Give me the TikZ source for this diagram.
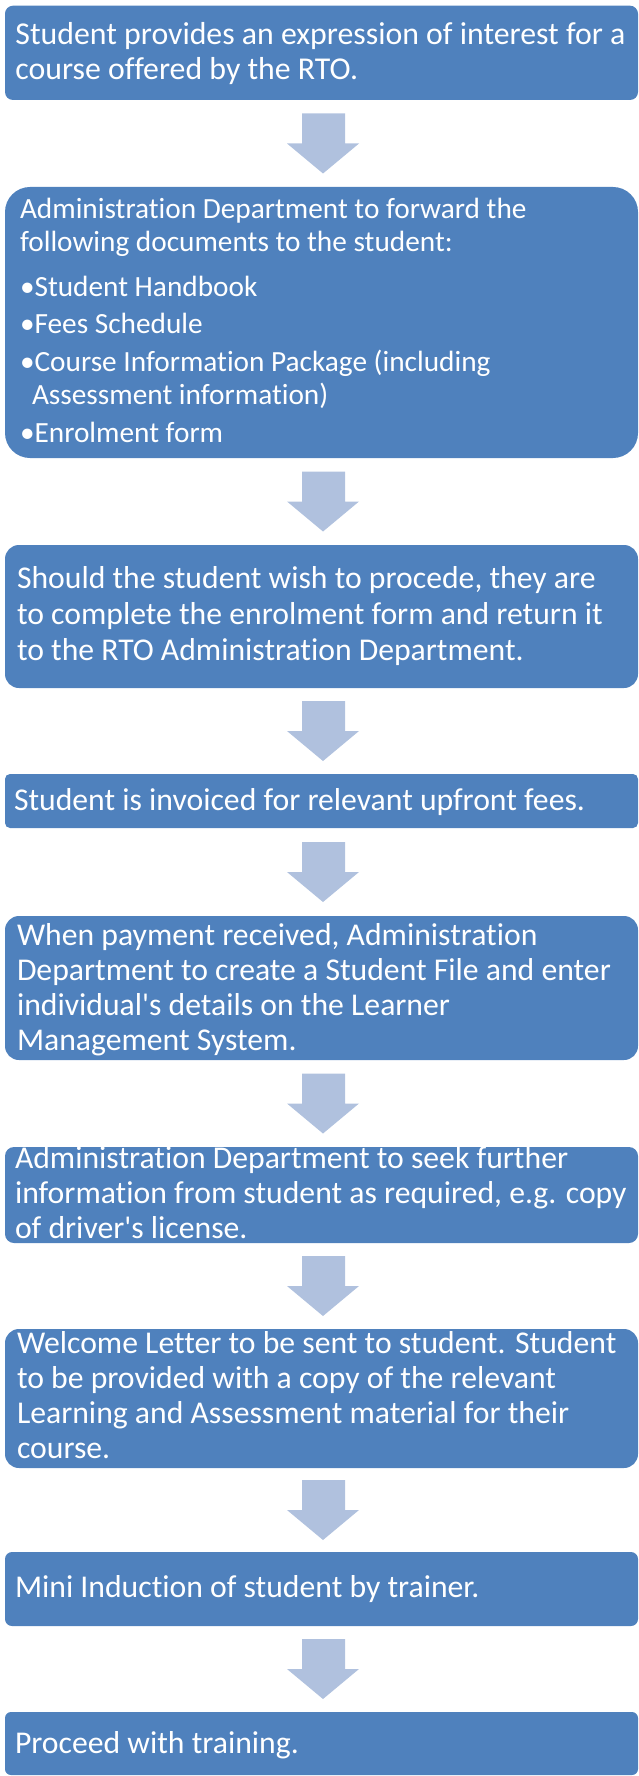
\documentclass[tikz,border=0pt]{standalone}
\usepackage{fontspec}
\setmainfont{Carlito}[RawFeature={-liga;-clig;-calt;-rlig;-dlig}]
\XeTeXinterchartokenstate=1
\newXeTeXintercharclass\tclass
\newXeTeXintercharclass\iclass
\XeTeXcharclass`t=\tclass
\XeTeXcharclass`i=\iclass
\XeTeXinterchartoks\tclass\iclass={\kern0pt }
\usetikzlibrary{calc}
\definecolor{boxblue}{HTML}{4F81BD}
\definecolor{arrowblue}{HTML}{B0C1DE}
\tikzset{
  stepbox/.style={fill=boxblue, inner sep=0pt, outer sep=0pt, anchor=north west, minimum width=633pt},
  steptext/.style={inner sep=0pt, outer sep=0pt, anchor=base west, text=white},
  arrowfill/.style={fill=arrowblue}
}
\newcommand\blockarrow[2]{%
  \coordinate (m#1) at ($(#1.south)!0.5!(#2.north)$);
  \fill[arrowfill] ($(m#1)+(-19.5,-30)$) -- ($(m#1)+(23.5,-30)$) -- ($(m#1)+(23.5,0)$) -- ($(m#1)+(37.5,0)$) -- ($(m#1)+(1.5,30)$) -- ($(m#1)+(-34.5,0)$) -- ($(m#1)+(-19.5,0)$) -- cycle;}
\newcommand\boxtext[3]{\parbox[t]{700pt}{\lineskiplimit=-100pt\fontsize{#1}{#2}\selectfont #3}}
\begin{document}
\begin{tikzpicture}[x=1pt,y=-1pt]
\useasboundingbox (0,0) rectangle (639,1776);
% boxes
\node[stepbox, rounded corners=8pt, minimum height=94.3pt] (b1) at (5,5.7) {};
\node[stepbox, rounded corners=25pt, minimum height=271pt] (b2) at (5,187) {};
\node[stepbox, rounded corners=14pt, minimum height=143pt] (b3) at (5,545) {};
\node[stepbox, rounded corners=5pt, minimum height=54pt] (b4) at (5,774) {};
\node[stepbox, rounded corners=14pt, minimum height=144pt] (b5) at (5,916) {};
\node[stepbox, rounded corners=9pt, minimum height=96pt] (b6) at (5,1147) {};
\node[stepbox, rounded corners=14pt, minimum height=139pt] (b7) at (5,1329) {};
\node[stepbox, rounded corners=7pt, minimum height=74pt] (b8) at (5,1552) {};
\node[stepbox, rounded corners=6pt, minimum height=63pt] (b9) at (5,1712) {};
% arrows
\blockarrow{b1}{b2}
\blockarrow{b2}{b3}
\blockarrow{b3}{b4}
\blockarrow{b4}{b5}
\blockarrow{b5}{b6}
\blockarrow{b6}{b7}
\blockarrow{b7}{b8}
\blockarrow{b8}{b9}
% texts
\node[steptext] (t1) at (15.5,45) {\boxtext{31.8}{35}{Student provides an expression of interest for a\\course offered by the RTO.}};
\node[steptext] (t2) at (20,219) {\boxtext{29.3}{33}{Administration Department to forward the\\
following documents to the student:\\[12pt]
•Student Handbook\\[4pt]
•Fees Schedule\\[5pt]
•Course Information Package (including\\
\hspace*{12pt}Assessment information)\\[5pt]
•Enrolment form}};
\node[steptext] (t3) at (17,588) {\boxtext{31.7}{36}{Should the student wish to procede, they are\\to complete the enrolment form and return it\\to the RTO Administration Department.}};
\node[steptext] (t4) at (14,810) {\boxtext{31.7}{35}{Student is invoiced for relevant upfront fees.}};
\node[steptext] (t5) at (17,945) {\boxtext{31.7}{35}{When payment received, Administration\\Department to create a Student File and enter\\individual\textquotesingle s details on the Learner\\Management System.}};
\node[steptext] (t6) at (15,1168) {\boxtext{31.7}{35}{Administration Department to seek further\\information from student as required, e.g. copy\\of driver\textquotesingle s license.}};
\node[steptext] (t7) at (17,1353) {\boxtext{31.7}{35}{Welcome Letter to be sent to student. Student\\to be provided with a copy of the relevant\\Learning and Assessment material for their\\course.}};
\node[steptext] (t8) at (15,1597) {\boxtext{31.7}{35}{Mini Induction of student by trainer.}};
\node[steptext] (t9) at (15,1753) {\boxtext{31.7}{35}{Proceed with training.}};
\end{tikzpicture}
\end{document}
